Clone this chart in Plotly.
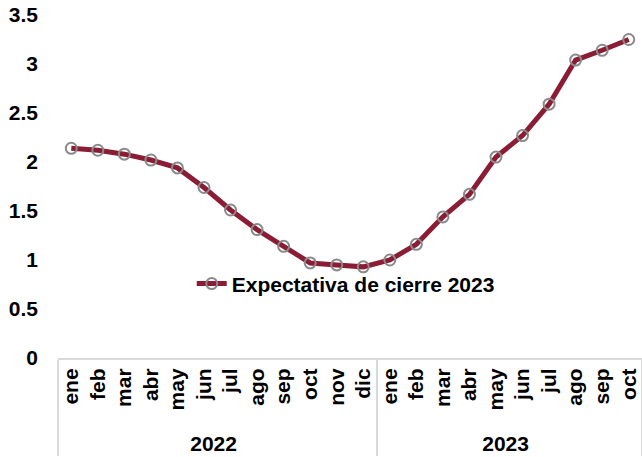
import plotly.graph_objects as go

years = ["2022"] * 12 + ["2023"] * 10
months = ["ene", "feb", "mar", "abr", "may", "jun", "jul", "ago", "sep", "oct", "nov", "dic",
          "ene", "feb", "mar", "abr", "may", "jun", "jul", "ago", "sep", "oct"]
expectativa = [2.14, 2.12, 2.08, 2.02, 1.94, 1.74, 1.51, 1.31, 1.14, 0.97, 0.95, 0.93,
               1.00, 1.16, 1.44, 1.67, 2.05, 2.27, 2.59, 3.04, 3.14, 3.25]
y_ticks = [0, 0.5, 1, 1.5, 2, 2.5, 3, 3.5]
y_ticktext = ["0", "0.5", "1", "1.5", "2", "2.5", "3", "3.5"]

font_family = "Liberation Sans, Arial, sans-serif"
fs = 21

fig = go.Figure()
fig.add_trace(go.Scatter(
    x=[years, months],
    y=expectativa,
    mode="lines+markers",
    name="Expectativa de cierre 2023",
    line=dict(color="#8B1C35", width=5),
    marker=dict(symbol="circle-open", size=11, color="#8a8a8a", line=dict(width=2, color="#8a8a8a")),
))

fig.update_layout(
    width=642, height=457,
    margin=dict(l=58, r=0, t=15, b=99, autoexpand=False),
    paper_bgcolor="white", plot_bgcolor="white",
    font=dict(family=font_family, size=fs, color="black", weight="bold"),
    showlegend=True,
    legend=dict(x=0.229, y=0.216, xanchor="left", yanchor="middle",
                bgcolor="rgba(0,0,0,0)", font=dict(size=fs, weight="bold")),
    xaxis=dict(
        type="multicategory", automargin=False,
        range=[-0.5, len(months) - 0.5], nticks=40,
        showline=True, linecolor="#d9d9d9", linewidth=2,
        showgrid=False, ticks="",
        tickangle=-90, ticklabeloverflow="allow",
        showdividers=True, dividercolor="#d9d9d9", dividerwidth=2,
        tickfont=dict(size=fs, weight="bold"),
    ),
    yaxis=dict(
        range=[0, 3.5], automargin=False,
        tickvals=y_ticks, ticktext=y_ticktext,
        showgrid=False, zeroline=False, showline=False,
        ticks="", ticklabelstandoff=19, ticklabeloverflow="allow",
        tickfont=dict(size=fs, weight="bold"),
    ),
)

fig.write_html(
    "out.html",
    config={"displayModeBar": False},
    post_script="document.body.style.margin='0';document.body.style.overflow='hidden';",
)
